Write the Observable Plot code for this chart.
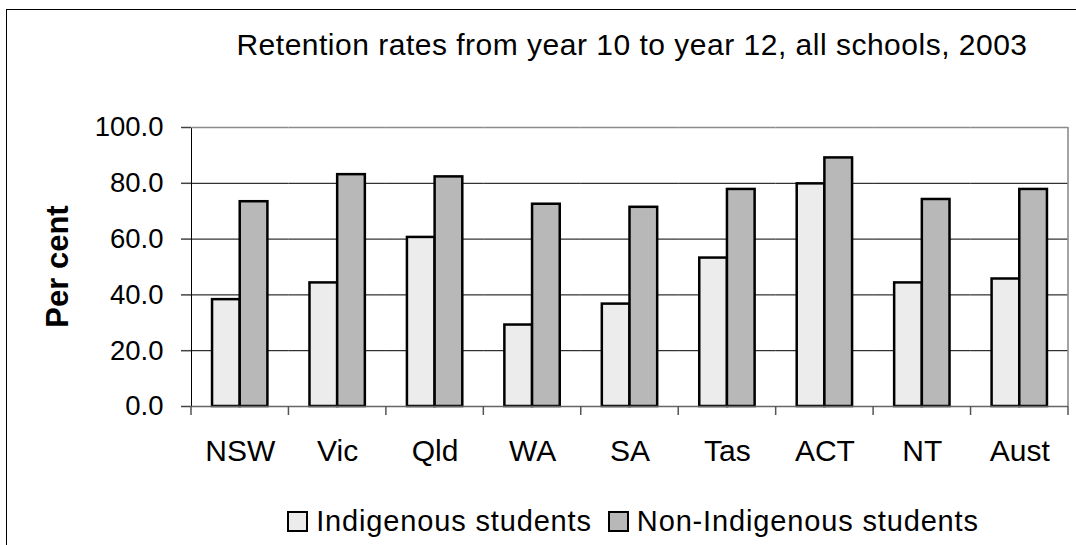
<!DOCTYPE html>
<html>
<head>
<meta charset="utf-8">
<script src="https://cdn.jsdelivr.net/npm/d3@7"></script>
<script src="https://cdn.jsdelivr.net/npm/@observablehq/plot@0.6"></script>
<style>
  html, body { margin: 0; padding: 0; background: #fff; }
  body {
    width: 1076px; height: 545px; overflow: hidden; position: relative;
    font-family: "Liberation Sans", Arial, Helvetica, sans-serif; color: #000;
  }
  #border {
    position: absolute; left: 6px; top: 9px; width: 1200px; height: 700px;
    border-left: 1.6px solid #000; border-top: 1.6px solid #000;
  }
  #title {
    position: absolute; left: 132px; width: 1000px; top: 30px;
    text-align: center; font-size: 30px; line-height: 30px; letter-spacing: 0.5px;
    white-space: nowrap;
  }
  #chart { position: absolute; left: 0; top: 95px; }
  #chart svg { overflow: visible; }
  #chart [aria-label^="y-axis"] text { font-size: 27.5px; }
  #chart [aria-label^="fx-axis"] text { font-size: 30px; }
  #chart [aria-label^="y-axis"] line,
  #chart [aria-label^="y-axis"] path { stroke: #444; stroke-width: 1.5px; }
  #legend {
    position: absolute; left: 133px; width: 1000px; top: 507px;
    display: flex; justify-content: center; align-items: center;
    font-size: 29px; line-height: 29px; letter-spacing: 0.85px; white-space: nowrap;
  }
  .item { display: flex; align-items: center; }
  .item + .item { margin-left: 16px; }
  .swatch {
    box-sizing: border-box; width: 21px; height: 21px;
    border: 2px solid #000; margin-right: 8px;
  }
</style>
</head>
<body>
<div id="border"></div>
<div id="title">Retention rates from year 10 to year 12, all schools, 2003</div>
<div id="chart"></div>
<div id="legend"></div>
<script>
// Year 10 to year 12 apparent retention rates, 2003 (per cent)
const states = ["NSW", "Vic", "Qld", "WA", "SA", "Tas", "ACT", "NT", "Aust"];
const seriesNames = ["Indigenous students", "Non-Indigenous students"];
const indigenous = [38.3, 44.3, 60.6, 29.2, 36.7, 53.2, 79.8, 44.3, 45.7];
const nonIndigenous = [73.4, 83.1, 82.3, 72.5, 71.4, 77.8, 89.1, 74.2, 77.8];
const yTicks = [0, 20, 40, 60, 80, 100];
const gridTicks = [20, 40, 60, 80];
const fills = ["#ececec", "#b8b8b8"];

const rows = states.flatMap((state, i) => [
  {state, series: seriesNames[0], value: indigenous[i]},
  {state, series: seriesNames[1], value: nonIndigenous[i]}
]);

const fontFamily = '"Liberation Sans", Arial, Helvetica, sans-serif';

const chart = Plot.plot({
  width: 1076,
  height: 390,
  marginLeft: 191,
  marginRight: 8,
  marginTop: 32,
  marginBottom: 79,
  style: {fontFamily, fontSize: "27.5px", color: "#000", background: "transparent"},
  facet: {data: rows, x: "state"},
  fx: {
    domain: states, paddingInner: 0, paddingOuter: 0, round: false,
    axis: "bottom", label: null, tickSize: 0, tickPadding: 33
  },
  x: {domain: seriesNames, paddingInner: 0, paddingOuter: 0.76, round: false, axis: null},
  y: {
    domain: [0, 100], ticks: yTicks, tickFormat: d3.format(".1f"),
    tickSize: 10, tickPadding: 18, line: true, label: null
  },
  color: {domain: seriesNames, range: fills},
  marks: [
    Plot.ruleY(gridTicks, {stroke: "#000", strokeWidth: 1}),
    Plot.ruleY([100], {stroke: "#8c8c8c", strokeWidth: 1.6}),
    Plot.barY(rows, {x: "series", y: "value", fill: "series", stroke: "#000", strokeWidth: 2.5, inset: 0}),
    Plot.ruleY([0], {stroke: "#666", strokeWidth: 1.6})
  ]
});

document.getElementById("chart").append(chart);

// Category boundary ticks, right edge of the plot area and the y-axis title
const svg = d3.select(chart);
const fxScale = chart.scale("fx");
const yScale = chart.scale("y");
const y0 = yScale.apply(0);
const y100 = yScale.apply(100);
const band = fxScale.bandwidth ?? fxScale.step;
const bounds = states.map(s => fxScale.apply(s)).concat(fxScale.apply(states[states.length - 1]) + band);

svg.append("g")
  .attr("stroke", "#555")
  .attr("stroke-width", 1.5)
  .selectAll("line")
  .data(bounds)
  .join("line")
  .attr("x1", d => d).attr("x2", d => d)
  .attr("y1", y0).attr("y2", y0 + 9);

svg.append("line")
  .attr("stroke", "#8c8c8c").attr("stroke-width", 1.6)
  .attr("x1", bounds[bounds.length - 1]).attr("x2", bounds[bounds.length - 1])
  .attr("y1", y100).attr("y2", y0);

svg.append("text")
  .attr("transform", `translate(68,${(y0 + y100) / 2}) rotate(-90)`)
  .attr("text-anchor", "middle")
  .attr("font-family", fontFamily)
  .attr("font-weight", "bold")
  .attr("font-size", 31)
  .attr("fill", "#000")
  .text("Per cent");

// Legend
const legend = d3.select("#legend");
seriesNames.forEach((name, i) => {
  const item = legend.append("div").attr("class", "item");
  item.append("div").attr("class", "swatch").style("background", fills[i]);
  item.append("span").text(name);
});
</script>
</body>
</html>
